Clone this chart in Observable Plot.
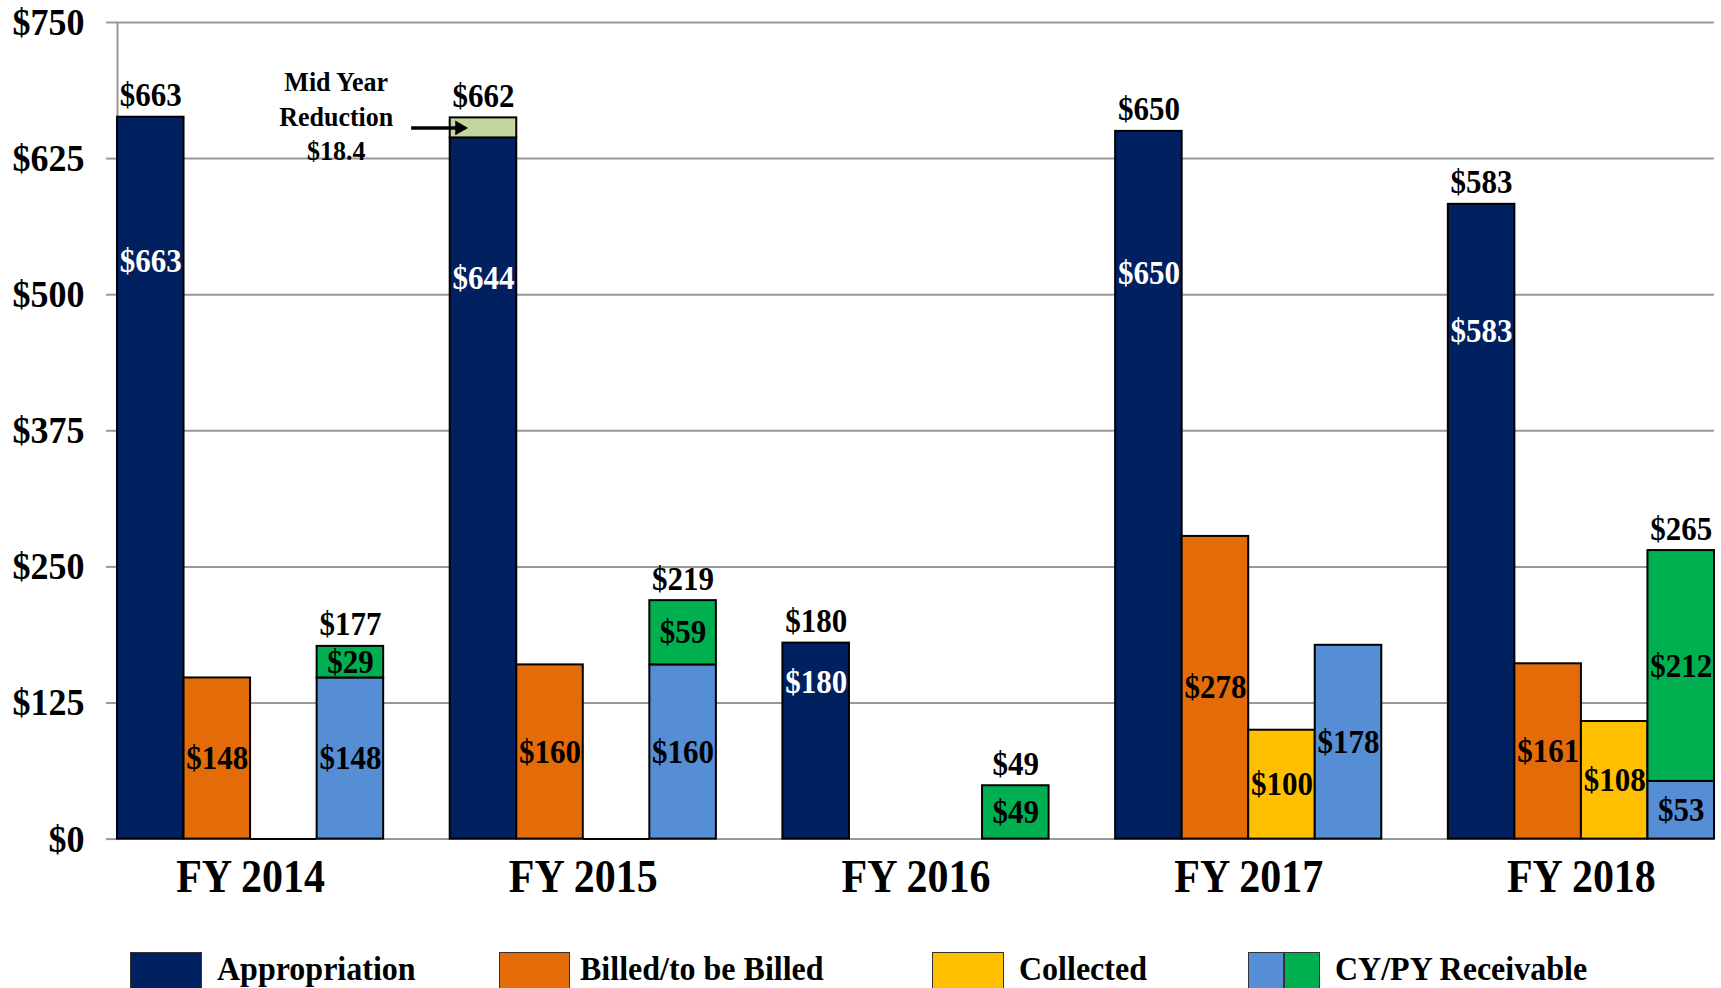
<!DOCTYPE html>
<html>
<head>
<meta charset="utf-8">
<script src="https://cdn.jsdelivr.net/npm/d3@7"></script>
<script src="https://cdn.jsdelivr.net/npm/@observablehq/plot@0.6"></script>
<style>
  html, body { margin: 0; padding: 0; background: #fff; overflow: hidden; }
  #wrap { position: relative; width: 1721px; height: 988px; font-family: "Liberation Serif", "Times New Roman", serif; font-weight: bold; }
  .lg { position: absolute; top: 952px; height: 40px; box-sizing: border-box; border: 1.5px solid #333; }
  .lt { position: absolute; top: 951px; font-size: 32px; line-height: 36px; color: #000; white-space: nowrap; transform: scaleY(1.08); transform-origin: 0 70%; }
</style>
</head>
<body>
<div id="wrap"></div>
<script>
// ---- data ----
const years = ["FY 2014", "FY 2015", "FY 2016", "FY 2017", "FY 2018"];
const appropriation = [663, 644, 180, 650, 583];
const midYearReduction = [null, 18.4, null, null, null];
const appropriationTotals = [663, 662, 180, 650, 583];
const billed = [148, 160, null, 278, 161];
const collected = [0, 0, null, 100, 108];
const receivableCY = [148, 160, null, 178, 53];
const receivablePY = [29, 59, 49, null, 212];
const receivableTotals = [177, 219, 49, null, 265];
const yTicks = [0, 125, 250, 375, 500, 625, 750];
const seriesNames = ["Appropriation", "Billed/to be Billed", "Collected", "CY/PY Receivable"];

const colors = {
  app: "#002060", red: "#C3D69B", billed: "#E36C09", coll: "#FFC000", cy: "#558ED5", py: "#00B050"
};

// ---- build segments ----
const segs = [];
const zeros = [];
const topLabels = [];
years.forEach((yr, g) => {
  const base = g * 5;
  // appropriation
  segs.push({slot: base, y1: 0, y2: appropriation[g], fill: colors.app,
    label: "$" + appropriation[g], ly: appropriation[g] * 0.8, lc: "#fff"});
  if (midYearReduction[g] != null) {
    segs.push({slot: base, y1: appropriation[g], y2: appropriation[g] + midYearReduction[g], fill: colors.red, label: null});
  }
  topLabels.push({slot: base, y: appropriationTotals[g], text: "$" + appropriationTotals[g]});
  // billed
  if (billed[g] != null) {
    if (billed[g] === 0) zeros.push({slot: base + 1});
    else segs.push({slot: base + 1, y1: 0, y2: billed[g], fill: colors.billed, label: "$" + billed[g], ly: billed[g] / 2, lc: "#000"});
  }
  // collected
  if (collected[g] != null) {
    if (collected[g] === 0) zeros.push({slot: base + 2});
    else segs.push({slot: base + 2, y1: 0, y2: collected[g], fill: colors.coll, label: "$" + collected[g], ly: collected[g] / 2, lc: "#000"});
  }
  // receivable
  const cy = receivableCY[g] || 0;
  if (receivableCY[g] != null && cy > 0) {
    segs.push({slot: base + 3, y1: 0, y2: cy, fill: colors.cy, label: "$" + cy, ly: cy / 2, lc: "#000"});
  }
  if (receivablePY[g] != null && receivablePY[g] > 0) {
    segs.push({slot: base + 3, y1: cy, y2: cy + receivablePY[g], fill: colors.py, label: "$" + receivablePY[g], ly: cy + receivablePY[g] / 2, lc: "#000"});
  }
  if (receivableTotals[g] != null) topLabels.push({slot: base + 3, y: receivableTotals[g], text: "$" + receivableTotals[g]});
});

const annIdx = midYearReduction.findIndex(v => v != null);
const ann = {
  slot: annIdx * 5,
  y: appropriation[annIdx] + midYearReduction[annIdx] / 2,
  text: "Mid Year\nReduction\n$" + midYearReduction[annIdx]
};

const font = "Liberation Serif";
const W = 1721, H = 950;

const chart = Plot.plot({
  width: W, height: H,
  marginLeft: 117, marginRight: 7, marginTop: 22, marginBottom: H - 838.6,
  style: {fontFamily: font, fontWeight: "bold", background: "#fff", color: "#000"},
  x: {type: "linear", domain: [0, 24], axis: null},
  y: {domain: [0, 750], axis: null},
  color: {type: "identity"},
  marks: [
    Plot.ruleY(yTicks, {stroke: "#999", strokeWidth: 2}),
    Plot.axisY({ticks: yTicks, tickFormat: d => "$" + d, tickSize: 11, tickPadding: 22,
      fontSize: 36, fontFamily: font, fontWeight: "bold", stroke: "#999", fill: "#000", strokeWidth: 2, label: null}),
    Plot.ruleX([0], {stroke: "#999", strokeWidth: 2}),
    Plot.rect(segs, {x1: "slot", x2: d => d.slot + 1, y1: "y1", y2: "y2", fill: "fill", stroke: "#000", strokeWidth: 2}),
    Plot.ruleY(zeros, {y: 0, x1: "slot", x2: d => d.slot + 1, stroke: "#000", strokeWidth: 2}),
    Plot.text(segs.filter(d => d.label), {x: d => d.slot + 0.5, y: "ly", text: "label", fill: "lc",
      fontSize: 31, fontFamily: font, fontWeight: "bold", lineAnchor: "middle"}),
    Plot.text(topLabels, {x: d => d.slot + 0.5, y: "y", text: "text", fill: "#000",
      fontSize: 31, fontFamily: font, fontWeight: "bold", lineAnchor: "bottom", dy: -11}),
    Plot.text(years.map((yr, g) => ({yr, c: g * 5 + 2})), {x: "c", y: 0, text: "yr", dy: 38,
      fontSize: 42, fontFamily: font, fontWeight: "bold", fill: "#000", lineAnchor: "middle"}),
    // annotation
    Plot.text([ann], {x: "slot", y: "y", text: "text", dx: -114, dy: -13, fontSize: 26, lineHeight: 1.23,
      fontFamily: font, fontWeight: "bold", fill: "#000", lineAnchor: "middle"}),
    Plot.ruleY([ann], {y: "y", x1: d => d.slot - 0.58, x2: d => d.slot + 0.1, stroke: "#000", strokeWidth: 3.5}),
    Plot.dot([ann], {x: d => d.slot + 0.14, y: "y", symbol: "triangle", rotate: 90, r: 5.5, fill: "#000", stroke: "none"})
  ]
});

// slight vertical stretch of the glyphs, as in the reference
chart.querySelectorAll("text").forEach(t => {
  const tr = t.getAttribute("transform");
  if (tr && tr.startsWith("translate")) t.setAttribute("transform", tr + " scale(1,1.08)");
});

const wrap = document.getElementById("wrap");
wrap.appendChild(chart);

// ---- legend ----
const legend = [
  {sw: [[130, 72, colors.app]], tx: 217, name: seriesNames[0]},
  {sw: [[499, 71, colors.billed]], tx: 580, name: seriesNames[1]},
  {sw: [[932, 72, colors.coll]], tx: 1019, name: seriesNames[2]},
  {sw: [[1248, 36, colors.cy], [1284, 36, colors.py]], tx: 1335, name: seriesNames[3]}
];
legend.forEach(item => {
  item.sw.forEach(([x, w, c]) => {
    const d = document.createElement("div");
    d.className = "lg";
    d.style.left = x + "px"; d.style.width = w + "px"; d.style.background = c;
    wrap.appendChild(d);
  });
  const t = document.createElement("div");
  t.className = "lt";
  t.style.left = item.tx + "px";
  t.textContent = item.name;
  wrap.appendChild(t);
});
</script>
</body>
</html>
